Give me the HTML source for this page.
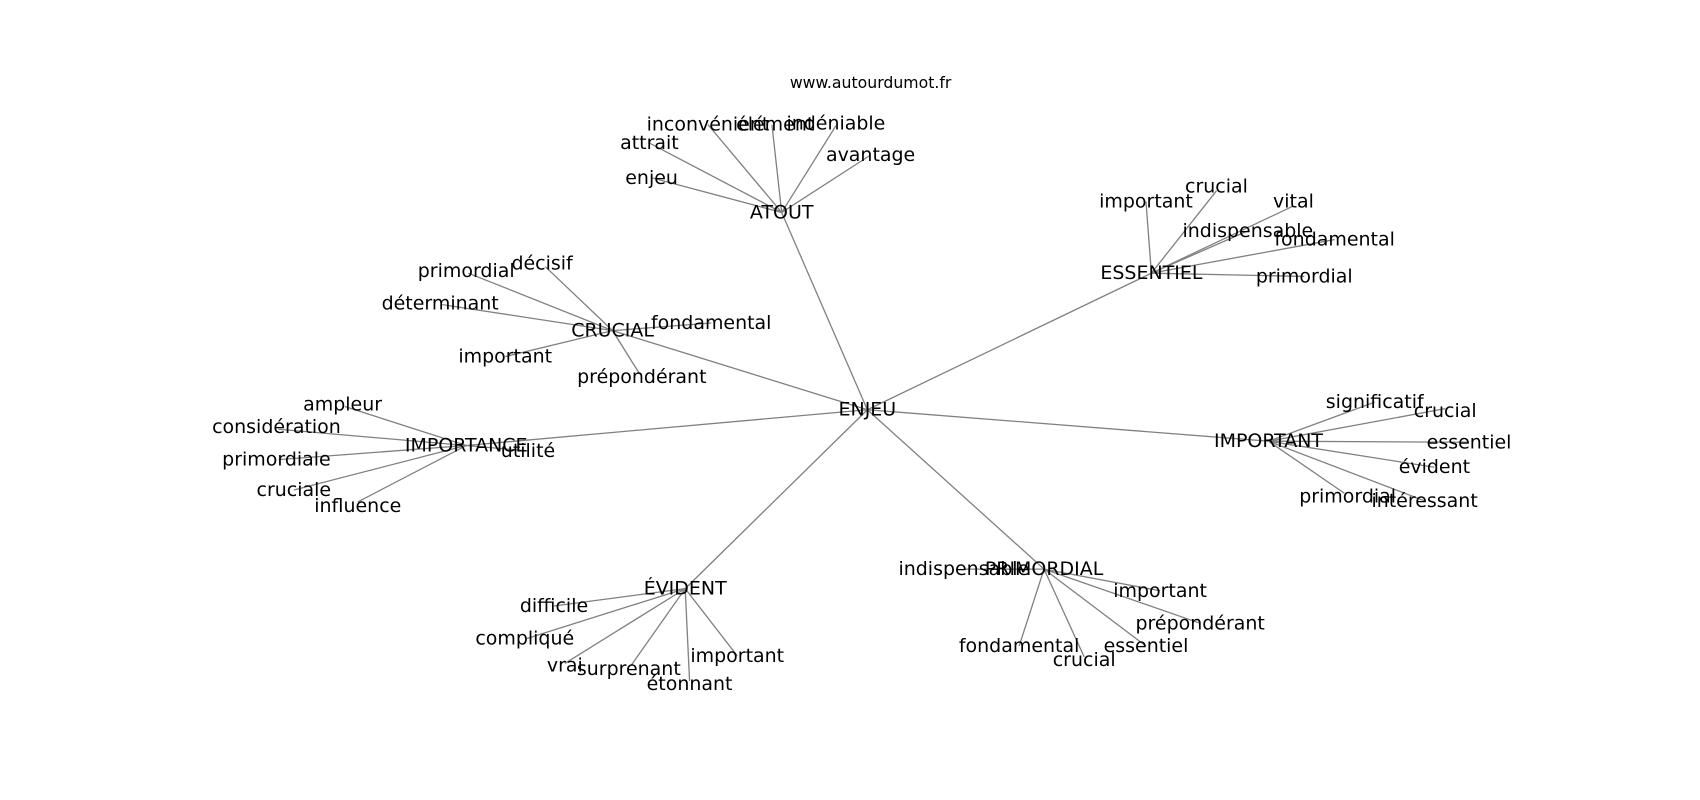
<!DOCTYPE html>
<html><head><meta charset="utf-8"><style>
html,body{margin:0;padding:0;background:#fff;}
svg{display:block}
text{font-family:"DejaVu Sans","Liberation Sans",sans-serif;font-size:17.5px;fill:#000;text-anchor:middle;dominant-baseline:central}
line{stroke:#808080;stroke-width:1.2}
</style></head><body>
<svg width="1700" height="800" viewBox="0 0 1568 738" preserveAspectRatio="none">
<g>
<line x1="800" y1="378" x2="721" y2="196"/>
<line x1="800" y1="378" x2="1062" y2="252"/>
<line x1="800" y1="378" x2="565" y2="305"/>
<line x1="800" y1="378" x2="430" y2="411"/>
<line x1="800" y1="378" x2="1170" y2="407"/>
<line x1="800" y1="378" x2="632" y2="543"/>
<line x1="800" y1="378" x2="963" y2="525"/>
<line x1="721" y1="196" x2="653" y2="115"/>
<line x1="721" y1="196" x2="712" y2="115"/>
<line x1="721" y1="196" x2="771" y2="116"/>
<line x1="721" y1="196" x2="599" y2="132"/>
<line x1="721" y1="196" x2="803" y2="143"/>
<line x1="721" y1="196" x2="601" y2="164"/>
<line x1="1062" y1="252" x2="1057" y2="186"/>
<line x1="1062" y1="252" x2="1122" y2="176"/>
<line x1="1062" y1="252" x2="1193" y2="190"/>
<line x1="1062" y1="252" x2="1151" y2="213"/>
<line x1="1062" y1="252" x2="1231" y2="221"/>
<line x1="1062" y1="252" x2="1203" y2="255"/>
<line x1="565" y1="305" x2="503" y2="246"/>
<line x1="565" y1="305" x2="432" y2="252"/>
<line x1="565" y1="305" x2="408" y2="281"/>
<line x1="565" y1="305" x2="656" y2="298"/>
<line x1="565" y1="305" x2="466" y2="329"/>
<line x1="565" y1="305" x2="590" y2="345"/>
<line x1="430" y1="411" x2="318" y2="375"/>
<line x1="430" y1="411" x2="257" y2="396"/>
<line x1="430" y1="411" x2="257" y2="424"/>
<line x1="430" y1="411" x2="271" y2="452"/>
<line x1="430" y1="411" x2="330" y2="463"/>
<line x1="430" y1="411" x2="487" y2="416"/>
<line x1="1170" y1="407" x2="1268" y2="371"/>
<line x1="1170" y1="407" x2="1333" y2="377"/>
<line x1="1170" y1="407" x2="1355" y2="408"/>
<line x1="1170" y1="407" x2="1323" y2="431"/>
<line x1="1170" y1="407" x2="1240" y2="455"/>
<line x1="1170" y1="407" x2="1314" y2="462"/>
<line x1="632" y1="543" x2="511" y2="559"/>
<line x1="632" y1="543" x2="486" y2="589"/>
<line x1="632" y1="543" x2="521" y2="612"/>
<line x1="632" y1="543" x2="582" y2="614"/>
<line x1="632" y1="543" x2="636" y2="628"/>
<line x1="632" y1="543" x2="680" y2="605"/>
<line x1="963" y1="525" x2="889" y2="525"/>
<line x1="963" y1="525" x2="1070" y2="545"/>
<line x1="963" y1="525" x2="1107" y2="575"/>
<line x1="963" y1="525" x2="1057" y2="596"/>
<line x1="963" y1="525" x2="940" y2="596"/>
<line x1="963" y1="525" x2="1000" y2="606"/>
</g>
<text x="803" y="76" style="font-size:14.5px">www.autourdumot.fr</text>
<text x="800" y="378">ENJEU</text>
<text x="721" y="196">ATOUT</text>
<text x="1062" y="252">ESSENTIEL</text>
<text x="565" y="305">CRUCIAL</text>
<text x="430" y="411">IMPORTANCE</text>
<text x="1170" y="407">IMPORTANT</text>
<text x="632" y="543">ÉVIDENT</text>
<text x="963" y="525">PRIMORDIAL</text>

<text x="653" y="115">inconvénient</text>
<text x="715" y="115">élément</text>
<text x="771" y="114">indéniable</text>
<text x="599" y="132">attrait</text>
<text x="803" y="143">avantage</text>
<text x="601" y="164">enjeu</text>

<text x="1057" y="186">important</text>
<text x="1122" y="172">crucial</text>
<text x="1193" y="186">vital</text>
<text x="1151" y="213">indispensable</text>
<text x="1231" y="221">fondamental</text>
<text x="1203" y="255">primordial</text>

<text x="500" y="243">décisif</text>
<text x="430" y="250">primordial</text>
<text x="406" y="280">déterminant</text>
<text x="656" y="298">fondamental</text>
<text x="466" y="329">important</text>
<text x="592" y="348">prépondérant</text>

<text x="316" y="373">ampleur</text>
<text x="255" y="394">considération</text>
<text x="255" y="424">primordiale</text>
<text x="271" y="452">cruciale</text>
<text x="330" y="467">influence</text>
<text x="487" y="416">utilité</text>

<text x="1268" y="371">significatif</text>
<text x="1333" y="379">crucial</text>
<text x="1355" y="408">essentiel</text>
<text x="1323" y="431">évident</text>
<text x="1243" y="458">primordial</text>
<text x="1314" y="462">intéressant</text>

<text x="511" y="559">difficile</text>
<text x="484" y="589">compliqué</text>
<text x="521" y="614">vrai</text>
<text x="580" y="617">surprenant</text>
<text x="636" y="631">étonnant</text>
<text x="680" y="605">important</text>

<text x="889" y="525">indispensable</text>
<text x="1070" y="545">important</text>
<text x="1107" y="575">prépondérant</text>
<text x="1057" y="596">essentiel</text>
<text x="940" y="596">fondamental</text>
<text x="1000" y="609">crucial</text>
</svg>
</body></html>
